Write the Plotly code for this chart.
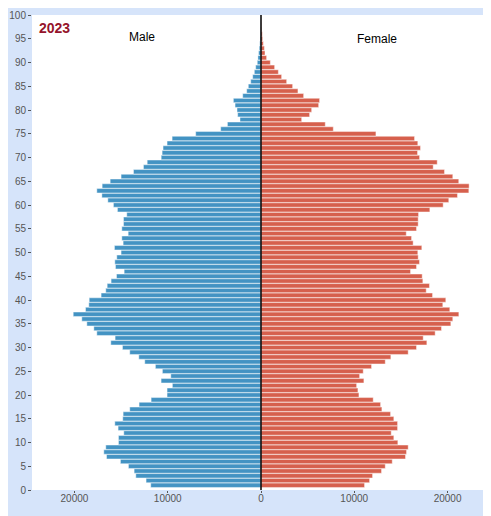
import plotly.graph_objects as go

# Population by single year of age, 2023
ages = list(range(1, 101))

male = [
    11820, 12320, 13420, 13600, 14210, 15070, 16560, 16850, 16640, 15280,
    15280, 14710, 15320, 15670, 14820, 14780, 14070, 13070, 11780, 10070,
    10070, 9500, 10710, 9670, 10570, 11320, 12460, 13100, 14070, 14850,
    16100, 15640, 17600, 17920, 18670, 19210, 20130, 18810, 18460, 18420,
    17140, 16640, 16490, 16070, 15490, 14670, 15600, 15670, 15460, 15000,
    15710, 14780, 14920, 14240, 14920, 14740, 14740, 14390, 15390, 15820,
    16420, 17060, 17600, 17030, 16170, 15000, 13670, 12600, 12200, 10700,
    10600, 10500, 10070, 9530, 7000, 4320, 3600, 2250, 2500, 2570,
    2780, 2960, 1960, 1535, 1360, 1100, 890, 714, 570, 400,
    330, 260, 190, 130, 90, 50, 30, 15, 8, 4,
]

female = [
    11100, 11640, 11960, 12920, 13320, 14070, 15490, 15600, 15780, 14670,
    14240, 13960, 14640, 14640, 14240, 13890, 12960, 12820, 12030, 10500,
    10390, 10250, 11030, 10570, 10960, 11850, 13320, 13920, 15780, 16670,
    17780, 17390, 18670, 19350, 20350, 20560, 21210, 20240, 19490, 19810,
    18390, 17710, 18060, 17350, 17280, 16030, 16670, 16990, 16850, 16810,
    17240, 16310, 16140, 15570, 16670, 16850, 16850, 16890, 18100, 19530,
    20130, 21060, 22280, 22310, 21200, 20560, 19670, 18460, 18890, 17000,
    16780, 17100, 16810, 16460, 12320, 7750, 6890, 4360, 5210, 5430,
    6180, 6280, 4570, 3960, 3390, 2750, 2210, 1860, 1460, 1000,
    600, 430, 360, 250, 180, 140, 70, 40, 20, 10,
]

x_tickvals = [-20000, -10000, 0, 10000, 20000]
x_ticktext = ["20000", "10000", "0", "10000", "20000"]
year_label = "2023"

fig = go.Figure()

# Male to the left (negative), female to the right
fig.add_trace(go.Bar(
    y=ages, x=[-v for v in male], orientation="h", name="Male",
    marker=dict(color="#4393c3", line=dict(width=0.8, color="rgba(255,255,255,0.55)")),
))
fig.add_trace(go.Bar(
    y=ages, x=female, orientation="h", name="Female",
    marker=dict(color="#d6604d", line=dict(width=0.8, color="rgba(255,255,255,0.55)")),
))

fig.update_layout(
    width=483, height=508,
    margin=dict(l=24, r=1, t=7, b=26),
    paper_bgcolor="#d6e4fa",
    plot_bgcolor="white",
    barmode="relative",
    bargap=0.08,
    showlegend=False,
    font=dict(family="Liberation Sans, Arial, sans-serif", size=10, color="#555555"),
    xaxis=dict(
        range=[-24550, 24550], tickvals=x_tickvals, ticktext=x_ticktext,
        showgrid=False, zeroline=False, ticks="outside", ticklen=2,
        tickcolor="#555555", showline=False, ticklabelstandoff=-3,
    ),
    yaxis=dict(
        range=[0, 100], dtick=5, showgrid=False, zeroline=False,
        ticks="outside", ticklen=3, tickcolor="#555555", showline=False,
    ),
    shapes=[dict(type="line", xref="x", yref="paper", x0=0, x1=0, y0=0, y1=1,
                 line=dict(color="black", width=1.5), layer="above")],
    annotations=[
        dict(x=-12800, y=95.4, xref="x", yref="y", text="Male", showarrow=False,
             font=dict(size=12, color="black")),
        dict(x=12400, y=94.9, xref="x", yref="y", text="Female", showarrow=False,
             font=dict(size=12, color="black")),
        dict(x=0.012, y=97.3, xref="paper", yref="y", xanchor="left", text="<b>" + year_label + "</b>",
             showarrow=False, font=dict(size=14, color="#95142b")),
    ],
)

fig.write_html("out.html")
